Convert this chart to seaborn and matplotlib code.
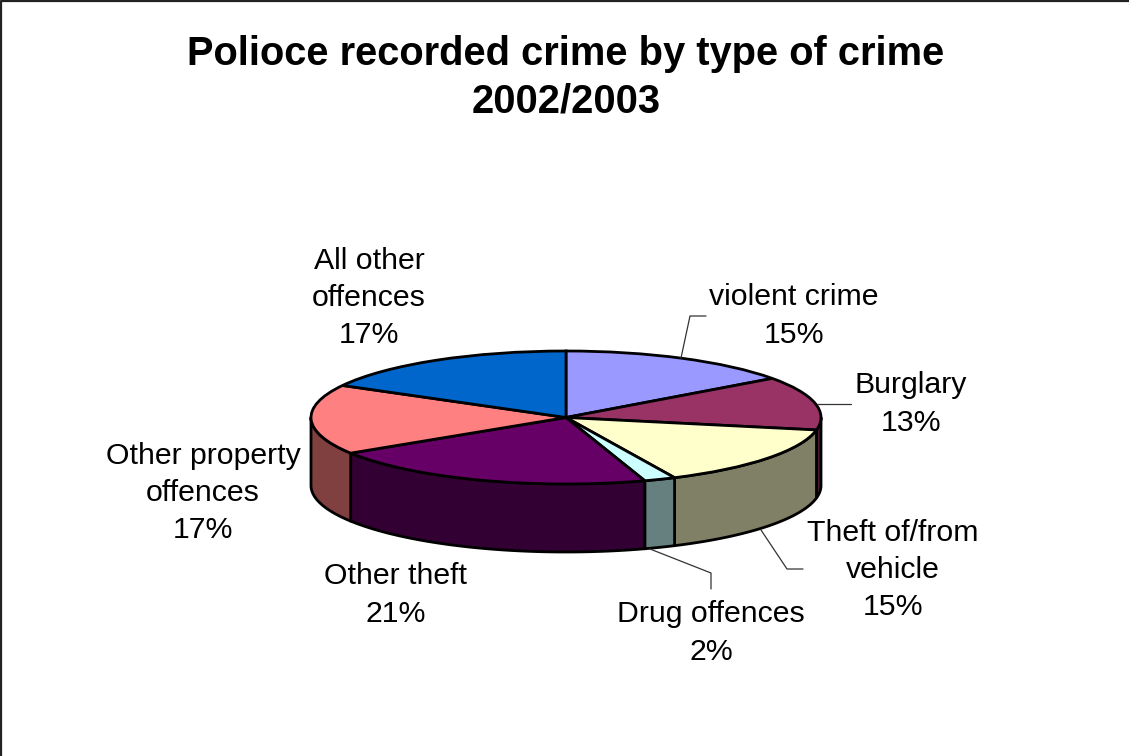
import numpy as np
import matplotlib
matplotlib.use("Agg")
import matplotlib.pyplot as plt
from matplotlib.transforms import Affine2D
import seaborn as sns

categories = ["violent crime", "Burglary", "Theft of/from\nvehicle", "Drug offences",
              "Other theft", "Other property\noffences", "All other\noffences"]
shares = [15, 13, 15, 2, 21, 17, 17]
top_colors = ["#9999FF", "#993366", "#FFFFCC", "#CCFFFF", "#660066", "#FF8080", "#0066CC"]
title_text = "Polioce recorded crime by type of crime\n2002/2003"

WIDTH, HEIGHT = 1129, 756
CX, CY, RX, RY = 566, 417.5, 255, 66.5
DEPTH = 68 / RY

sns.set_theme(style="white")
plt.rcParams["font.family"] = ["Liberation Sans", "DejaVu Sans"]

fig = plt.figure(figsize=(WIDTH / 100, HEIGHT / 100), dpi=100, facecolor="white")
ax = fig.add_axes([0, 0, 1, 1])
px = Affine2D().scale(1, -1).translate(0, HEIGHT)  # canvas pixels, y downwards

# Outer wall of the disc: only the part of each slice facing the viewer
palette = sns.color_palette(top_colors)
edges = np.radians(np.concatenate([[0], np.cumsum(shares)]) * 360 / sum(shares))
for start, stop, color in zip(edges[:-1], edges[1:], palette):
    lo, hi = max(start, np.pi / 2), min(stop, 3 * np.pi / 2)
    if lo >= hi:
        continue
    t = np.linspace(lo, hi, 80)
    xs = np.concatenate([np.sin(t), np.sin(t[::-1])])
    ys = np.concatenate([np.cos(t), np.cos(t[::-1]) - DEPTH])
    ax.fill(xs, ys, facecolor=tuple(c * 0.5 for c in color), edgecolor="black",
            linewidth=2, joinstyle="round", zorder=1)

# Top face of the disc
wedges, _ = ax.pie(shares, colors=palette, startangle=90, counterclock=False, radius=1,
                   wedgeprops=dict(edgecolor="black", linewidth=2, zorder=2))

ax.set_aspect("auto")
ax.set_xlim(-CX / RX, (WIDTH - CX) / RX)
ax.set_ylim((CY - HEIGHT) / RY, CY / RY)
ax.axis("off")

# Leader lines
leaders = [
    [(681, 358), (690, 316), (706, 316)],
    [(817, 404), (851, 404)],
    [(761, 530), (787, 569), (803, 569)],
    [(650, 549), (711, 573), (711, 589)],
]
for path in leaders:
    xs, ys = zip(*path)
    ax.plot(xs, ys, color="#333333", linewidth=0.9, transform=px, zorder=3, clip_on=False)

# Slice labels
anchors = [(794, 316), (911, 404), (893, 570), (711, 633), (396, 595), (203, 493), (369, 298)]
for name, share, (x, y) in zip(categories, shares, anchors):
    ax.text(x, y, f"{name}\n{share}%", transform=px, ha="center", va="center",
            fontsize=21.8, color="black", linespacing=1.41, zorder=4)

ax.text(566, 77.5, title_text, transform=px, ha="center", va="center", fontsize=28.75,
        fontweight="bold", color="black", linespacing=1.33, zorder=4)

# Chart area border, visible along the top and left
ax.plot([1.2, 1.2, WIDTH], [HEIGHT, 0.8, 0.8], color="#222222", linewidth=1.6,
        transform=px, clip_on=False, zorder=5)

fig.savefig("out.png", dpi=100, facecolor="white")
